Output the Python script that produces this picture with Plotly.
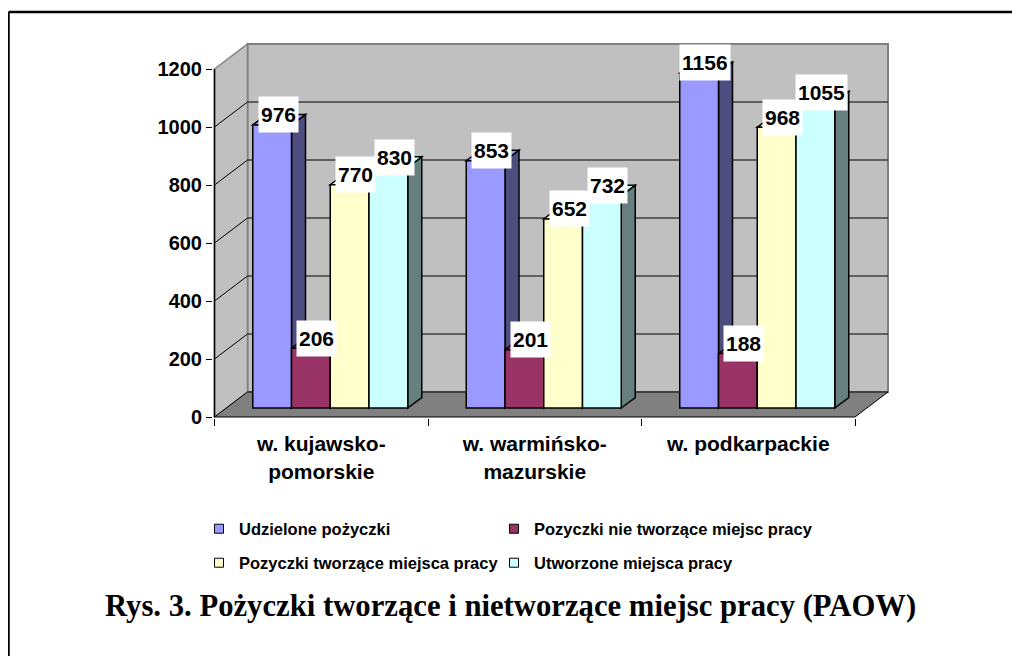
import plotly.graph_objects as go

# ---------------- data ----------------
categories = ["w. kujawsko-<br>pomorskie", "w. warmińsko-<br>mazurskie", "w. podkarpackie"]
series_names = ["Udzielone pożyczki", "Pozyczki nie tworzące miejsc pracy",
                "Pozyczki tworzące miejsca pracy", "Utworzone miejsca pracy"]
udzielone = [976, 853, 1156]
nie_tworzace = [206, 201, 188]
tworzace = [770, 652, 968]
utworzone = [830, 732, 1055]
y_ticks = [0, 200, 400, 600, 800, 1000, 1200]
caption = "Rys. 3. Pożyczki tworzące i nietworzące miejsc pracy (PAOW)"

series_values = [udzielone, nie_tworzace, tworzace, utworzone]

# ---------------- style ----------------
front_colors = ["#9999FF", "#993366", "#FFFFCC", "#CCFFFF"]
side_colors = ["#4D4D80", "#4D1A33", "#808066", "#668080"]
FONT = "Liberation Sans, Arial, sans-serif"
SERIF = "Liberation Serif, Times New Roman, serif"

# the page body has an 8px margin; figure kept inside the 1022x664 window
OFF = 8
W, H = 1022 - 2 * OFF, 664 - 2 * OFF


def fx(px):
    return (px - OFF) / W


def fy(py):
    return 1 - (py - OFF) / H


PX0, PX3 = 214.5, 855.0     # pixel x of category boundaries 0 and 3
PY0, PYTOP = 417.0, 69.0    # pixel y of value 0 and of top tick
ncat = len(categories)
ymax = y_ticks[-1]
sx = (PX3 - PX0) / ncat
sy = (PY0 - PYTOP) / ymax


def ux(px):
    return px / sx


def uy(px):
    return px / sy


# plot window in page pixels
L_PX, R_PX, T_PX, B_PX = 213, 900, 30, 418
x_range = [(L_PX - PX0) / sx, (R_PX - PX0) / sx]
y_range = [-(B_PX - PY0) / sy, (PY0 - T_PX) / sy]

# 3-D depth geometry
wdx, wdy = ux(33), uy(25)        # wall depth
fdx, fdy = ux(9), uy(9)          # position of bar front faces
bdx, bdy = ux(14), uy(10.5)      # bar depth
bw = ux(38.75)                   # bar width

shapes = []
# back wall
shapes.append(dict(type="rect", xref="x", yref="y", layer="below",
                   x0=wdx, x1=ncat + wdx, y0=wdy, y1=ymax + wdy,
                   fillcolor="#C0C0C0", line=dict(color="#808080", width=2)))
# left side wall
shapes.append(dict(type="path", xref="x", yref="y", layer="below",
                   path=f"M0,0 L{wdx},{wdy} L{wdx},{ymax + wdy} L0,{ymax} Z",
                   fillcolor="#C0C0C0", line=dict(color="#808080", width=1.5)))
# gridlines on walls
for v in y_ticks[1:-1]:
    shapes.append(dict(type="line", xref="x", yref="y", layer="below",
                       x0=wdx, x1=ncat + wdx, y0=v + wdy, y1=v + wdy,
                       line=dict(color="black", width=1)))
    shapes.append(dict(type="line", xref="x", yref="y", layer="below",
                       x0=0, x1=wdx, y0=v, y1=v + wdy,
                       line=dict(color="black", width=1)))
# floor
shapes.append(dict(type="path", xref="x", yref="y", layer="below",
                   path=f"M0,0 L{ncat},0 L{ncat + wdx},{wdy} L{wdx},{wdy} Z",
                   fillcolor="#808080", line=dict(color="black", width=1)))
# value axis line
shapes.append(dict(type="line", xref="x", yref="y", layer="below",
                   x0=0, x1=0, y0=0, y1=ymax, line=dict(color="black", width=1.5)))

# bars
traces = []
annotations = []
for i in range(ncat):
    for k, vals in enumerate(series_values):
        v = vals[i]
        xc = i + 0.5 + fdx + (k - 1.5) * bw
        xl, xr = xc - bw / 2, xc + bw / 2
        top = v + fdy
        # side face
        shapes.append(dict(type="path", xref="x", yref="y", layer="below",
                           path=f"M{xr},{fdy} L{xr + bdx},{fdy + bdy} L{xr + bdx},{top + bdy} L{xr},{top} Z",
                           fillcolor=side_colors[k], line=dict(color="black", width=1.5)))
        # top face
        shapes.append(dict(type="path", xref="x", yref="y", layer="below",
                           path=f"M{xl},{top} L{xr},{top} L{xr + bdx},{top + bdy} L{xl + bdx},{top + bdy} Z",
                           fillcolor=front_colors[k], line=dict(color="black", width=1.5)))

for k, vals in enumerate(series_values):
    xs = [i + 0.5 + fdx + (k - 1.5) * bw for i in range(ncat)]
    traces.append(go.Bar(x=xs, y=vals, base=fdy, width=bw,
                         marker=dict(color=front_colors[k], line=dict(color="black", width=1.5)),
                         showlegend=False, hoverinfo="skip"))
    for xc, v in zip(xs, vals):
        annotations.append(dict(xref="x", yref="y", x=xc, y=v + fdy, xshift=6, yshift=10,
                                text=f"<b>{v}</b>", showarrow=False, bgcolor="white",
                                borderpad=2, height=31,
                                font=dict(family=FONT, size=21, color="black")))

# legend entries (one legend per cell of the 2x2 grid)
legend_pos = [(199, 529), (494, 529), (199, 563), (494, 563)]
legend_names = ["legend", "legend2", "legend3", "legend4"]
for k, name in enumerate(series_names):
    traces.append(go.Scatter(x=[None], y=[None], mode="markers", name=name,
                             legend=legend_names[k],
                             marker=dict(symbol="square", size=9, color=front_colors[k],
                                         line=dict(color="black", width=1))))

fig = go.Figure(traces)

legend_layouts = {}
for k, lname in enumerate(legend_names):
    px, py = legend_pos[k]
    legend_layouts[lname] = dict(x=fx(px), y=fy(py), xanchor="left", yanchor="middle",
                                 bgcolor="rgba(0,0,0,0)", borderwidth=0, itemwidth=30,
                                 font=dict(family=FONT, size=16.5, color="black", weight="bold"))

annotations.append(dict(xref="paper", yref="paper", x=fx(510), y=fy(606),
                        xanchor="center", yanchor="middle", showarrow=False,
                        text=f"<b>{caption}</b>",
                        font=dict(family=SERIF, size=30.7, color="black")))

# outer frame: left and top edges
shapes.append(dict(type="line", xref="paper", yref="paper",
                   x0=fx(8.5), x1=fx(8.5), y0=0, y1=fy(12),
                   line=dict(color="black", width=2.5)))
shapes.append(dict(type="line", xref="paper", yref="paper",
                   x0=fx(8.5), x1=fx(1012), y0=fy(12), y1=fy(12),
                   line=dict(color="black", width=2.5)))

fig.update_layout(
    width=W, height=H, autosize=False,
    margin=dict(l=0, r=0, t=0, b=0),
    paper_bgcolor="white", plot_bgcolor="white",
    barmode="overlay",
    shapes=shapes, annotations=annotations,
    xaxis=dict(domain=[fx(L_PX), fx(R_PX)], range=x_range, showgrid=False, zeroline=False,
               showline=False, tickmode="array", tickvals=[i + 0.5 for i in range(ncat)],
               ticktext=categories, ticks="outside", ticklen=7, tickcolor="rgba(0,0,0,0)",
               tickfont=dict(family=FONT, size=21, color="black", weight="bold"),
               minor=dict(tickmode="array", tickvals=list(range(ncat + 1)), ticks="outside",
                          ticklen=7, tickwidth=1, tickcolor="black"),
               automargin=False, fixedrange=True),
    yaxis=dict(domain=[fy(B_PX), fy(T_PX)], range=y_range, showgrid=False,
               zeroline=False, showline=False, tickmode="array", tickvals=y_ticks,
               ticks="outside", ticklen=6, tickwidth=1, tickcolor="black",
               tickfont=dict(family=FONT, size=20, color="black", weight="bold"),
               automargin=False, fixedrange=True),
    **legend_layouts,
)

fig.write_html("out.html")
